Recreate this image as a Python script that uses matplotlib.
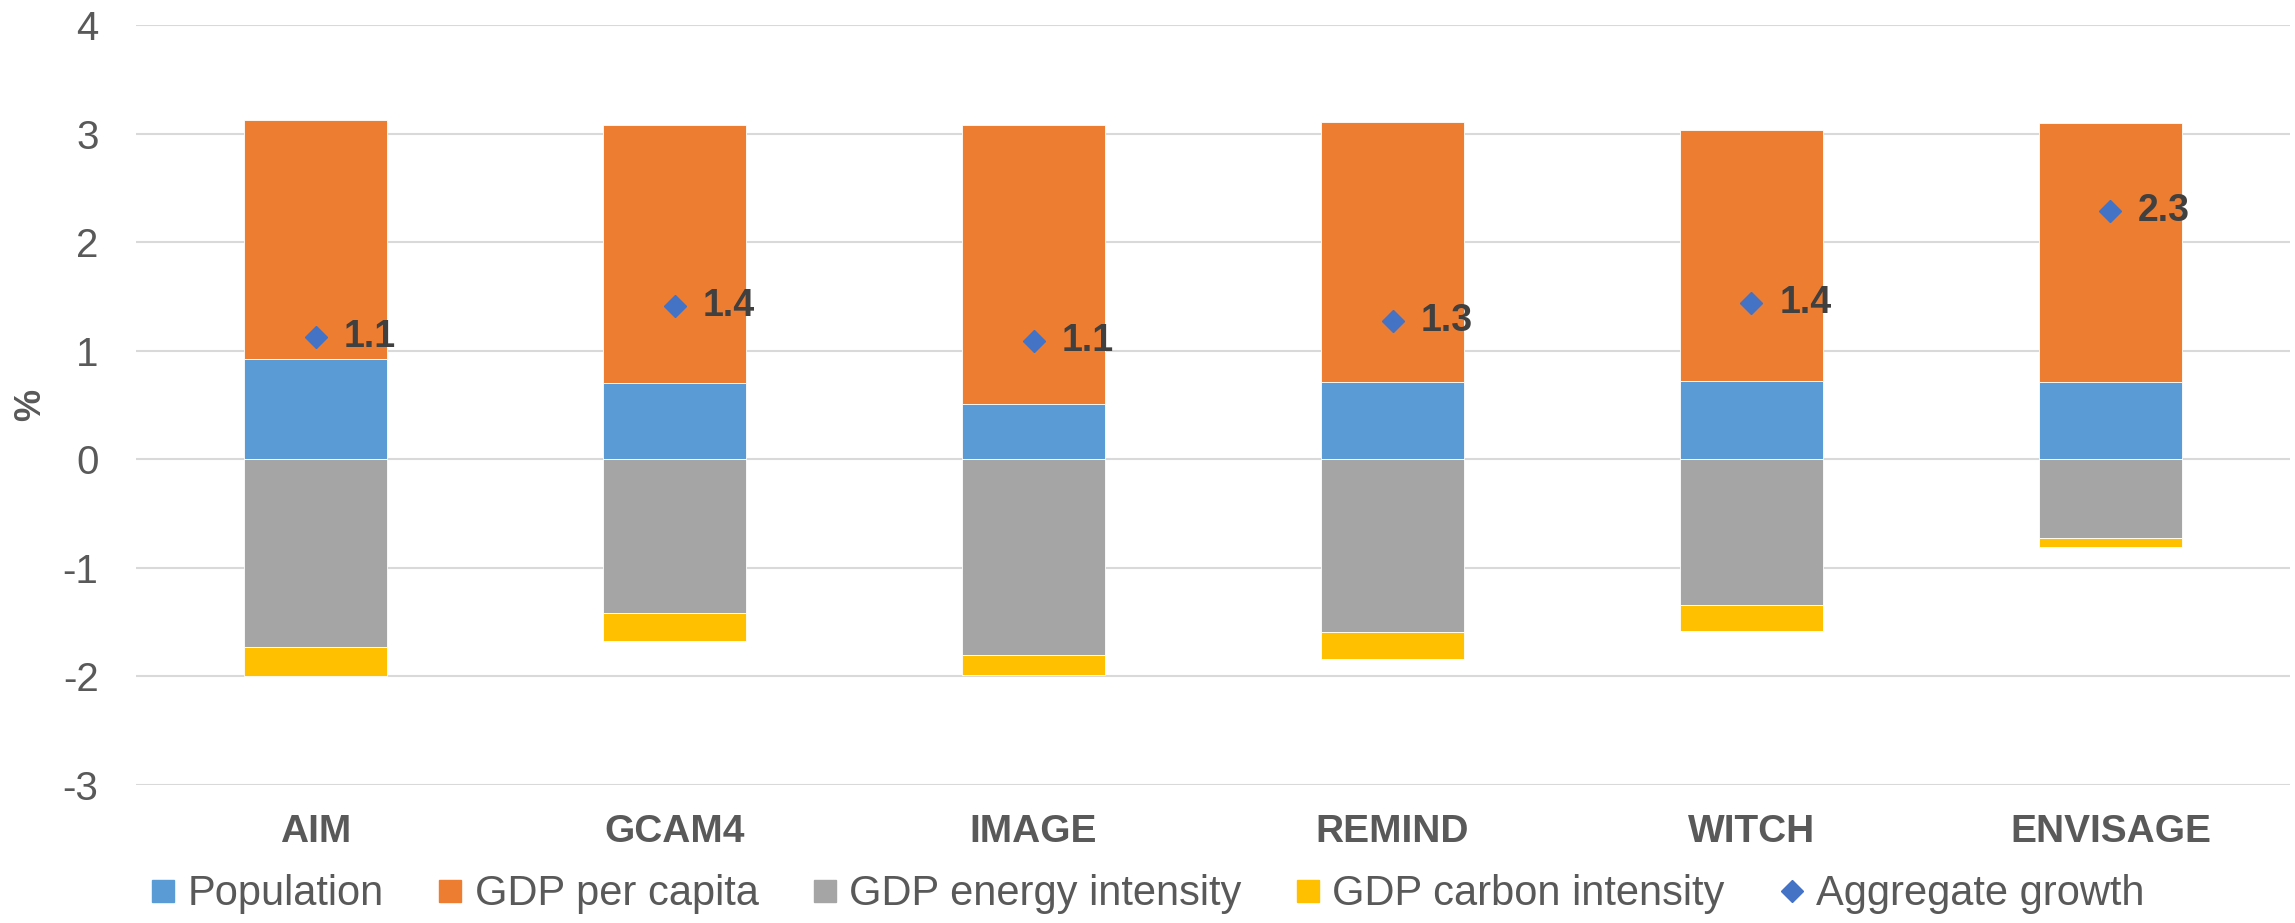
import matplotlib
matplotlib.use("Agg")
import matplotlib.pyplot as plt
from matplotlib.lines import Line2D

plt.rcParams['font.family'] = ['Liberation Sans', 'DejaVu Sans']
plt.rcParams['axes.unicode_minus'] = False

# growth decomposition per model, % per year
models = ["AIM", "GCAM4", "IMAGE", "REMIND", "WITCH", "ENVISAGE"]
population = [0.92, 0.70, 0.51, 0.71, 0.72, 0.71]
gdp_per_capita = [2.21, 2.38, 2.57, 2.40, 2.31, 2.39]
energy_intensity = [-1.73, -1.42, -1.80, -1.59, -1.34, -0.73]
carbon_intensity = [-0.27, -0.255, -0.19, -0.255, -0.24, -0.075]
aggregate = [1.13, 1.41, 1.09, 1.27, 1.44, 2.29]

c_pop = "#5B9BD5"
c_gdp = "#ED7D31"
c_energy = "#A5A5A5"
c_carbon = "#FFC000"
c_agg = "#4472C4"
txt = "#595959"

fig = plt.figure(figsize=(22.95, 9.23), dpi=100)
ax = fig.add_axes([0.0593, 0.1497, 0.9385, 0.823])

x = list(range(len(models)))
w = 0.40
bar_kw = dict(width=w, edgecolor="white", linewidth=0.6, zorder=2)

ax.bar(x, population, color=c_pop, **bar_kw)
ax.bar(x, gdp_per_capita, bottom=population, color=c_gdp, **bar_kw)
ax.bar(x, energy_intensity, color=c_energy, **bar_kw)
ax.bar(x, carbon_intensity, bottom=energy_intensity, color=c_carbon, **bar_kw)

ax.plot(x, aggregate, linestyle="none", marker="D", markersize=11.5,
        color=c_agg, zorder=3)
for xi, v in zip(x, aggregate):
    ax.annotate(f"{v:.1f}", (xi, v), xytext=(20, 0), textcoords="offset points",
                ha="left", va="center", fontsize=27, fontweight="bold",
                color="#404040", zorder=4)

ax.set_xlim(-0.5, len(models) - 0.5)
ax.set_ylim(-3, 4)
ax.set_yticks(range(-3, 5))
ax.set_xticks(x)
ax.set_xticklabels(models, fontsize=28, fontweight="bold", color=txt)
ax.tick_params(axis="y", length=0, pad=27, labelsize=29, labelcolor=txt)
ax.tick_params(axis="x", length=0, pad=21)
ax.grid(axis="y", color="#D9D9D9", linewidth=1.5)
ax.set_axisbelow(True)
for s in ax.spines.values():
    s.set_visible(False)

ax.set_ylabel("%", fontsize=26, fontweight="bold", color=txt)
ax.yaxis.set_label_coords(-0.041, 0.5)

handles = [
    Line2D([], [], linestyle="none", marker="s", markersize=16, color=c_pop),
    Line2D([], [], linestyle="none", marker="s", markersize=16, color=c_gdp),
    Line2D([], [], linestyle="none", marker="s", markersize=16, color=c_energy),
    Line2D([], [], linestyle="none", marker="s", markersize=16, color=c_carbon),
    Line2D([], [], linestyle="none", marker="D", markersize=11.5, color=c_agg),
]
labels = ["Population", "GDP per capita", "GDP energy intensity",
          "GDP carbon intensity", "Aggregate growth"]
fig.legend(handles, labels, loc="center", bbox_to_anchor=(0.5, 0.031),
           ncol=5, frameon=False, fontsize=30, labelcolor=txt,
           handlelength=0.6, handletextpad=0.28, columnspacing=1.3,
           borderpad=0)

fig.savefig("out.png", dpi=100)
